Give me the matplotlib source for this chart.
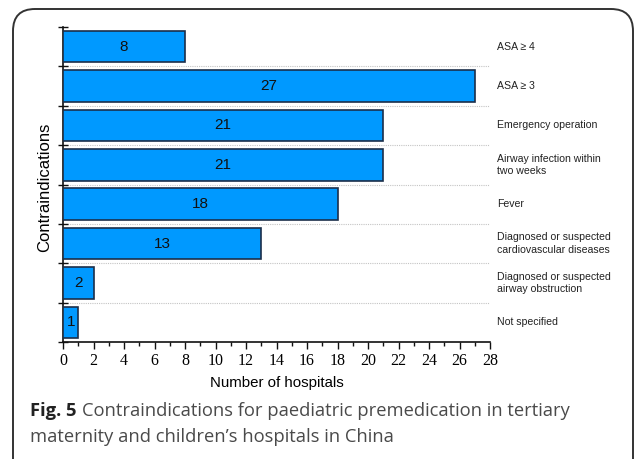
"""
Contraindications for paediatric premedication - horizontal bar chart.
"""

import matplotlib
matplotlib.use('Agg')
import matplotlib.pyplot as plt
from matplotlib.patches import FancyBboxPatch
from matplotlib.ticker import MultipleLocator

# Data (top to bottom as drawn)
categories = [
    'ASA \u2265 4',
    'ASA \u2265 3',
    'Emergency operation',
    'Airway infection within\ntwo weeks',
    'Fever',
    'Diagnosed or suspected\ncardiovascular diseases',
    'Diagnosed or suspected\nairway obstruction',
    'Not specified',
]
hospitals = [8, 27, 21, 21, 18, 13, 2, 1]

x_max = 28
bar_color = '#0099FF'
edge_color = '#1B2F4A'

fig = plt.figure(figsize=(6.35, 4.59), dpi=100)
ax = fig.add_axes([63 / 635, 1 - 342 / 459, 427 / 635, 315 / 459])

positions = list(range(len(categories)))
ax.barh(positions, hospitals, height=0.8, color=bar_color,
        edgecolor=edge_color, linewidth=1.2, zorder=3)

# Value labels in the middle of each bar
for pos, val in zip(positions, hospitals):
    ax.text(val / 2, pos, str(val), ha='center', va='center',
            fontsize=11, family='Liberation Sans', color='#111111', zorder=4)

# Category labels on the right
for pos, cat in zip(positions, categories):
    ax.text(x_max + 0.45, pos, cat, ha='left', va='center', fontsize=7.6,
            family='Liberation Sans', color='#222222', clip_on=False,
            linespacing=1.3)

# Dotted separators between rows
for b in range(1, len(categories)):
    ax.axhline(b - 0.5, color='#C4C4C4', linestyle=(0, (1, 1)),
               linewidth=0.8, zorder=1)

ax.set_xlim(0, x_max)
ax.set_ylim(len(categories) - 0.5, -0.5)

ax.xaxis.set_major_locator(MultipleLocator(2))
ax.xaxis.set_minor_locator(MultipleLocator(1))
ax.set_yticks([b - 0.5 for b in range(len(categories) + 1)])
ax.set_yticklabels([])

ax.tick_params(axis='x', which='major', direction='out', length=5,
               width=1, color='#111111', pad=3)
ax.tick_params(axis='x', which='minor', direction='out', length=3,
               width=1, color='#111111')
ax.tick_params(axis='y', which='major', direction='inout', length=7,
               width=1, color='#111111')
for lbl in ax.get_xticklabels():
    lbl.set_family('Liberation Serif')
    lbl.set_fontsize(11.5)

for side in ['top', 'right']:
    ax.spines[side].set_visible(False)
for side in ['left', 'bottom']:
    ax.spines[side].set_linewidth(1.2)
    ax.spines[side].set_color('#111111')

ax.set_xlabel('Number of hospitals', fontsize=10.8, family='Liberation Sans',
              labelpad=5)
ax.set_ylabel('Contraindications', fontsize=12, family='Liberation Sans')
ax.yaxis.label.set_va('center')
ax.yaxis.set_label_coords(-18 / 427, 0.49)

# Caption
cap_size = 13.2
cap_bold = fig.text(30 / 635, 1 - 420 / 459, 'Fig. 5', fontsize=cap_size,
                    family='Open Sans', weight='bold', color='#222222',
                    va='bottom')
ax.annotate('Contraindications for paediatric premedication in tertiary',
            xy=(1, 0), xycoords=cap_bold, xytext=(4, 0),
            textcoords='offset points', va='bottom', ha='left',
            fontsize=cap_size, family='Open Sans', color='#4a4a4a')
fig.text(30 / 635, 1 - 446 / 459, 'maternity and children\u2019s hospitals in China',
         fontsize=cap_size, family='Open Sans', color='#4a4a4a', va='bottom')

# Rounded frame around the figure
frame = FancyBboxPatch((13, -60), 620, 459 - 9 + 60,
                       boxstyle='round,pad=0,rounding_size=22',
                       transform=None, facecolor='none',
                       edgecolor='#333333', linewidth=1.4)
fig.patches.append(frame)

fig.savefig('out.png', dpi=100)
